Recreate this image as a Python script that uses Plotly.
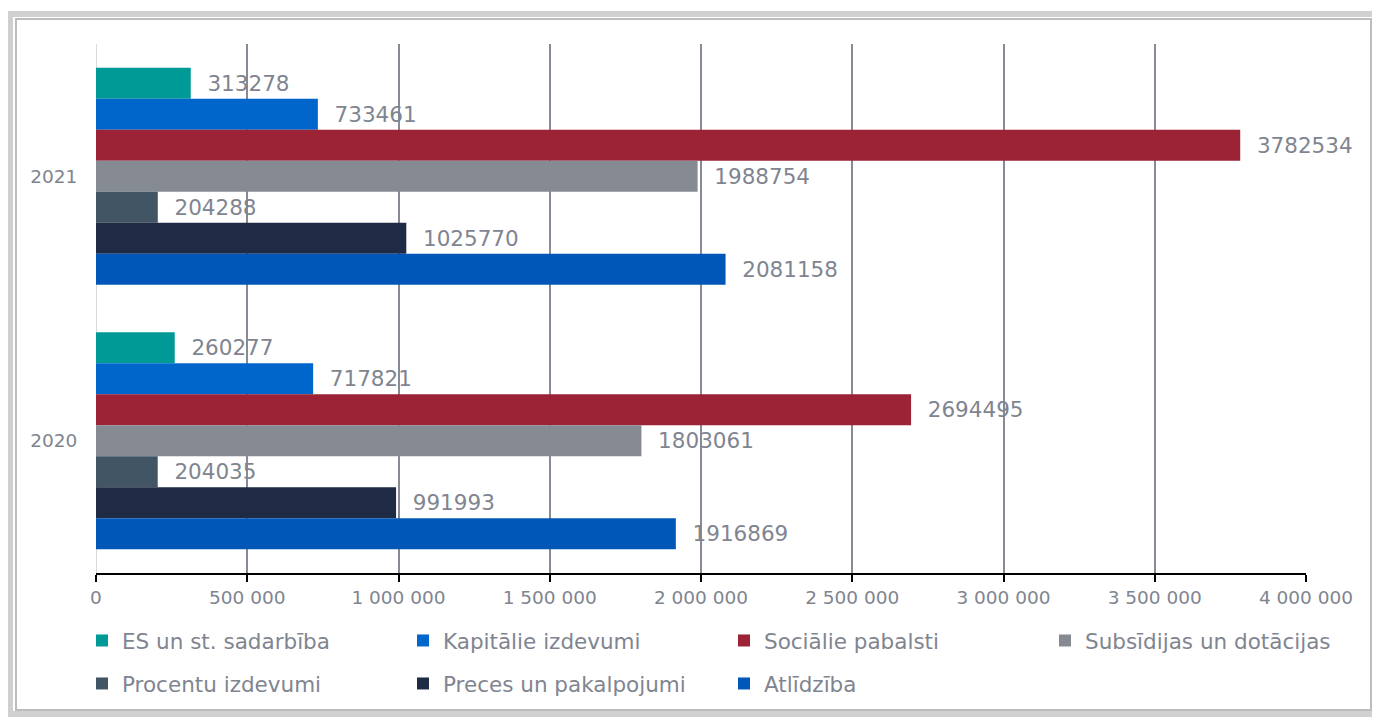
import plotly.graph_objects as go

years = ["2021", "2020"]
series_names = ["ES un st. sadarbība", "Kapitālie izdevumi", "Sociālie pabalsti",
                "Subsīdijas un dotācijas", "Procentu izdevumi", "Preces un pakalpojumi", "Atlīdzība"]
values_2021 = [313278, 733461, 3782534, 1988754, 204288, 1025770, 2081158]
values_2020 = [260277, 717821, 2694495, 1803061, 204035, 991993, 1916869]
colors = ["#009A96", "#0066CC", "#9B2335", "#858A93", "#415564", "#1F2A44", "#0057B8"]
x_ticks = [0, 500000, 1000000, 1500000, 2000000, 2500000, 3000000, 3500000, 4000000]

OFF = 8  # page body margin
W, H = 1380 - OFF, 719 - OFF
L, R, T, B = 96 - OFF, 1306 - OFF, 44 - OFF, 573 - OFF
pw, ph = R - L, B - T

def px(x):  # screen px -> paper
    return (x - OFF - L) / pw

def py(y):
    return (B - (y - OFF)) / ph

fig = go.Figure()
for i, name in enumerate(series_names):
    vals = [values_2021[i], values_2020[i]]
    fig.add_trace(go.Bar(
        y=years, x=vals, orientation="h", name=name,
        marker=dict(color=colors[i], line=dict(width=0)),
        text=["\u00a0\u00a0" + str(v) for v in vals],
        textposition="outside", constraintext="none", cliponaxis=False,
        textfont=dict(size=21.5, color="#7F8590", family="DejaVu Sans"),
        legend="legend" if i < 4 else "legend2",
    ))

grey = "#7F8590"
fig.update_layout(
    width=W, height=H,
    margin=dict(l=L, r=W - R, t=T, b=H - B),
    paper_bgcolor="white", plot_bgcolor="white",
    barmode="group", bargap=0.18, bargroupgap=0,
    separators=", ",
    font=dict(family="DejaVu Sans", color=grey),
    xaxis=dict(range=[0, 4000000], tickvals=x_ticks, tickformat=",d",
               showgrid=True, gridcolor="#878B95", gridwidth=2,
               zeroline=True, zerolinecolor="#D9D9D9", zerolinewidth=1,
               showline=True, linecolor="black", linewidth=2,
               ticks="outside", ticklen=7, tickwidth=2, tickcolor="black",
               tickfont=dict(size=18.5, color=grey)),
    yaxis=dict(type="category", categoryorder="array", categoryarray=years,
               autorange="reversed", showgrid=False, zeroline=False, showline=False,
               ticks="outside", ticklen=14, tickcolor="rgba(0,0,0,0)",
               tickfont=dict(size=18.5, color=grey)),
    legend=dict(orientation="h", x=px(82), xanchor="left", y=py(620), yanchor="top",
                entrywidth=276, entrywidthmode="pixels",
                font=dict(size=21.5, color=grey), bgcolor="rgba(0,0,0,0)"),
    legend2=dict(orientation="h", x=px(82), xanchor="left", y=py(663), yanchor="top",
                 entrywidth=276, entrywidthmode="pixels",
                 font=dict(size=21.5, color=grey), bgcolor="rgba(0,0,0,0)"),
    showlegend=True,
    shapes=[
        dict(type="rect", xref="paper", yref="paper", x0=px(10), x1=px(1375), y0=py(14), y1=py(714),
             line=dict(color="#D0D0D0", width=6), layer="below"),
        dict(type="rect", xref="paper", yref="paper", x0=px(16), x1=px(1371), y0=py(19), y1=py(710),
             line=dict(color="#BDBDBD", width=2), layer="below"),
    ],
)

fig.write_html("out.html")
